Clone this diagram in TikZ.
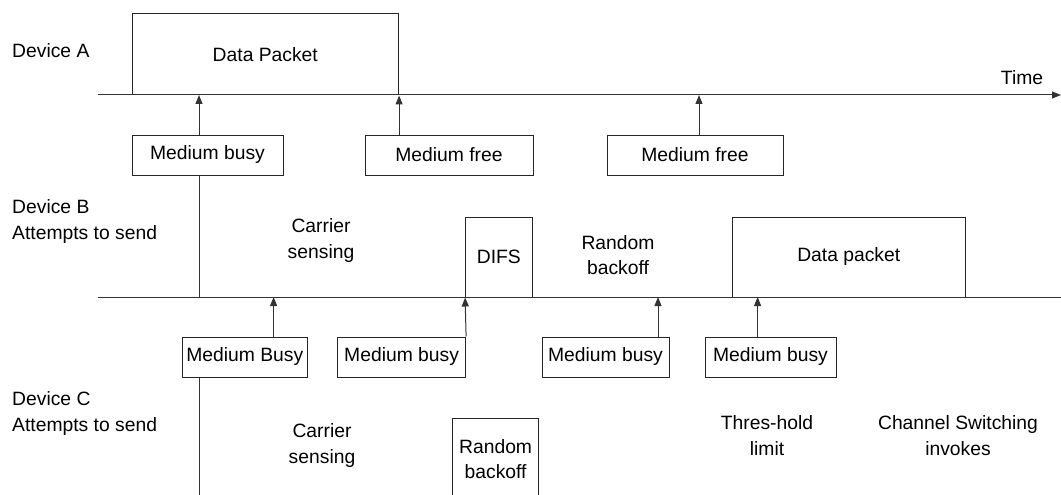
\documentclass[tikz,border=0pt]{standalone}
\usepackage{fontspec}
\setmainfont{Liberation Sans}
\usetikzlibrary{arrows.meta,calc}
\begin{document}
\begin{tikzpicture}[x=1pt,y=-1pt,
  every node/.style={font=\fontsize{19.3}{25.5}\selectfont},
  box/.style={draw=black!85,line width=1pt,inner sep=0pt,minimum height=40pt,align=center},
  lbl/.style={align=center,inner sep=0pt},
  dev/.style={align=left,inner sep=0pt,anchor=west},
  ln/.style={draw=black!80,line width=1pt},
  arr/.style={draw=black!80,line width=1pt,-{Triangle[length=9pt,width=7pt]}}]
\useasboundingbox (0,0) rectangle (1061,495);
% timelines
\coordinate (tA0) at (98,95);
\coordinate (tA1) at (1061,95);
\coordinate (tB0) at (98,297);
\coordinate (tB1) at (1061,297);
\coordinate (a1) at (199,95);
\coordinate (a3) at (699,95);
\coordinate (b1) at (273.6,297);
\coordinate (b3) at (658,297);
\coordinate (b4) at (757.6,297);
\coordinate (bot) at (199,495);
% Device A
\node[dev] (devA) at (12,51) {Device A};
\node[box,minimum width=266.6pt,minimum height=81pt] (dpA) at (265.3,54.5) {Data Packet};
\node[lbl] (time) at (1022,78) {Time};
\draw[arr] (tA0) -- (tA1);
\node[box,minimum width=151pt] (mbA) at (207.5,155) {Medium busy};
\node[box,minimum width=168pt] (mf1) at (449,155) {Medium free};
\node[box,minimum width=176pt] (mf2) at (695,155) {Medium free};
\draw[arr] (mbA.north -| a1) -- (a1);
\draw[arr] (mf1.north -| dpA.south east) -- (dpA.south east);
\draw[arr] (mf2.north -| a3) -- (a3);
% Device B
\node[dev] (devB) at (12,221.5) {Device B\\Attempts to send};
\node[lbl] (csB) at (321,240.5) {Carrier\\sensing};
\node[box,minimum width=66.4pt,minimum height=80pt] (difs) at (498.8,257) {DIFS};
\node[lbl] (rbB) at (618,255) {Random\\backoff};
\node[box,minimum width=233.5pt,minimum height=80pt] (dpB) at (848.75,257) {Data packet};
\draw[ln] (tB0) -- (tB1);
\draw[ln] (mbA.south -| a1) -- (a1 |- tB0);
\node[box,minimum width=125.5pt] (mc1) at (244.75,357) {Medium Busy};
\node[box,minimum width=128pt] (mc2) at (401.6,357) {Medium busy};
\node[box,minimum width=127pt] (mc3) at (605.5,357) {Medium busy};
\node[box,minimum width=131pt] (mc4) at (770.5,357) {Medium busy};
\draw[arr] (mc1.north -| b1) -- (b1);
\draw[arr] (mc2.north east) -- (difs.south west);
\draw[arr] (mc3.north -| b3) -- (b3);
\draw[arr] (mc4.north -| b4) -- (b4);
\draw[ln] (mc1.south -| bot) -- (bot);
% Device C
\node[dev] (devC) at (12,413.5) {Device C\\Attempts to send};
\node[lbl] (csC) at (322,445.5) {Carrier\\sensing};
\node[box,minimum width=85.7pt,minimum height=82pt] (rbC) at (495.6,459) {Random\\backoff};
\node[lbl] (thr) at (767,435.5) {Thres-hold\\limit};
\node[lbl] (chs) at (958,435.5) {Channel Switching\\invokes};
\end{tikzpicture}
\end{document}
